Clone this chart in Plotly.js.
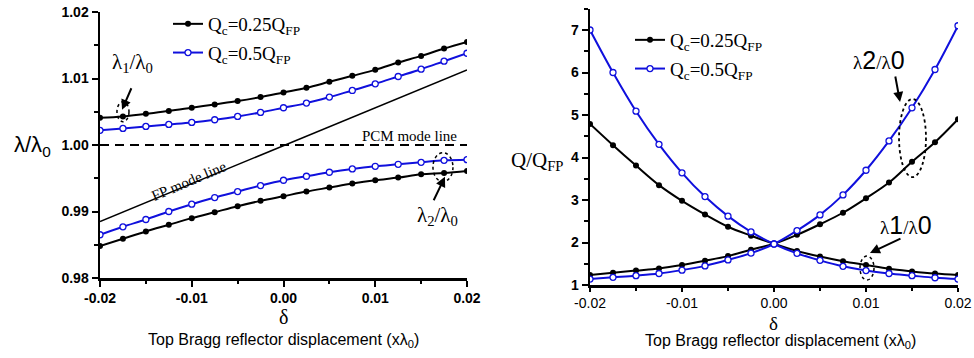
<!DOCTYPE html>
<html>
<head>
<meta charset="utf-8">
<script src="https://cdn.plot.ly/plotly-3.0.1.min.js"></script>
<style>html,body{margin:0;padding:0;background:#fff;}#chart{width:974px;height:358px;}</style>
</head>
<body>
<div id="chart"></div>
<script>
// ---- data ----
const delta = [-0.02,-0.0175,-0.015,-0.0125,-0.01,-0.0075,-0.005,-0.0025,0,0.0025,0.005,0.0075,0.01,0.0125,0.015,0.0175,0.02];
// left panel: normalized wavelength
const lam1_q025 = [1.0041,1.0043,1.0047,1.0051,1.0056,1.0061,1.0066,1.0072,1.0079,1.0086,1.0095,1.0104,1.0113,1.0124,1.0134,1.0145,1.0155];
const lam1_q05  = [1.0022,1.0025,1.0028,1.0031,1.0034,1.0038,1.0043,1.0049,1.0056,1.0063,1.0072,1.0082,1.0092,1.0103,1.0114,1.0126,1.0138];
const lam2_q025 = [0.9848,0.9859,0.9870,0.9880,0.9890,0.9899,0.9908,0.9916,0.9923,0.9930,0.9936,0.9942,0.9947,0.9951,0.9956,0.9958,0.9961];
const lam2_q05  = [0.9865,0.9877,0.9888,0.9900,0.9911,0.9921,0.9930,0.9939,0.9947,0.9953,0.9959,0.9964,0.9968,0.9971,0.9974,0.9977,0.9978];
const fp_x = [-0.02, 0.02];
const fp_y = [0.9885, 1.0113];
const pcm_x = [-0.02, 0.02];
const pcm_y = [1.0, 1.0];
// right panel: normalized Q
const q1_q025 = [4.79,4.29,3.81,3.35,2.98,2.66,2.37,2.16,1.97,1.80,1.67,1.56,1.47,1.38,1.32,1.27,1.235];
const q2_q025 = [1.235,1.29,1.34,1.39,1.47,1.57,1.68,1.83,1.97,2.18,2.43,2.70,3.04,3.41,3.90,4.36,4.90];
const q1_q05  = [7.00,6.00,5.09,4.31,3.64,3.08,2.62,2.25,1.965,1.745,1.58,1.44,1.34,1.27,1.22,1.17,1.14];
const q2_q05  = [1.14,1.18,1.22,1.27,1.35,1.45,1.59,1.75,1.965,2.28,2.65,3.12,3.70,4.39,5.17,6.07,7.10];
const legendNames = ['Q<sub>c</sub>=0.25Q<sub>FP</sub>', 'Q<sub>c</sub>=0.5Q<sub>FP</sub>'];
// tick labels
const xTickVals = [-0.02, -0.01, 0, 0.01, 0.02];
const xTickText = ['-0.02', '-0.01', '0.00', '0.01', '0.02'];
const lamTickVals = [0.98, 0.99, 1.00, 1.01, 1.02];
const lamTickText = ['0.98', '0.99', '1.00', '1.01', '1.02'];
const qTickVals = [1, 2, 3, 4, 5, 6, 7];
const qTickText = ['1', '2', '3', '4', '5', '6', '7'];

// ---- styles ----
const BLACK = '#000000';
const BLUE = '#1010dd';
const SERIF = 'Liberation Serif, Times New Roman, serif';
const SANS = 'Liberation Sans, Arial, sans-serif';
const W = 974, H = 358;
const px = v => v / W;
const py = v => 1 - v / H;
const bold = arr => arr.map(t => '<b>' + t + '</b>');

function blackTrace(y, xa, ya, show, leg) {
  return {x: delta, y: y, xaxis: xa, yaxis: ya, type: 'scatter', mode: 'lines+markers',
    line: {color: BLACK, width: 2, shape: 'spline'},
    marker: {color: BLACK, size: 6, symbol: 'circle'},
    name: legendNames[0], showlegend: show, legend: leg, legendgroup: leg + 'a'};
}
function blueTrace(y, xa, ya, show, leg) {
  return {x: delta, y: y, xaxis: xa, yaxis: ya, type: 'scatter', mode: 'lines+markers',
    line: {color: BLUE, width: 2, shape: 'spline'},
    marker: {color: '#ffffff', size: 6, symbol: 'circle', line: {color: BLUE, width: 1.3}},
    name: legendNames[1], showlegend: show, legend: leg, legendgroup: leg + 'b'};
}

const traces = [
  {x: fp_x, y: fp_y, xaxis: 'x', yaxis: 'y', mode: 'lines', line: {color: BLACK, width: 1.5}, showlegend: false},
  {x: pcm_x, y: pcm_y, xaxis: 'x', yaxis: 'y', mode: 'lines', line: {color: BLACK, width: 2, dash: '9px,6px'}, showlegend: false},
  blackTrace(lam1_q025, 'x', 'y', true, 'legend'),
  blueTrace(lam1_q05, 'x', 'y', true, 'legend'),
  blackTrace(lam2_q025, 'x', 'y', false, 'legend'),
  blueTrace(lam2_q05, 'x', 'y', false, 'legend'),
  blackTrace(q1_q025, 'x2', 'y2', true, 'legend2'),
  blueTrace(q1_q05, 'x2', 'y2', true, 'legend2'),
  blackTrace(q2_q025, 'x2', 'y2', false, 'legend2'),
  blueTrace(q2_q05, 'x2', 'y2', false, 'legend2')
];

const axisCommon = {
  showgrid: false, zeroline: false, showline: true, linecolor: BLACK, linewidth: 2.5,
  ticks: 'outside', ticklen: 6, tickwidth: 2, tickcolor: BLACK, mirror: false, tickmode: 'array'
};
const minorTicks = vals => ({tickvals: vals, ticks: 'outside', ticklen: 3.5, tickwidth: 2, tickcolor: BLACK});

const layout = {
  width: W, height: H,
  margin: {l: 0, r: 0, t: 0, b: 0},
  paper_bgcolor: '#ffffff', plot_bgcolor: 'rgba(0,0,0,0)',
  showlegend: true,
  xaxis: Object.assign({}, axisCommon, {
    domain: [px(100), px(467)], range: [-0.02, 0.02], anchor: 'y',
    tickvals: xTickVals, ticktext: bold(xTickText),
    tickfont: {family: SANS, size: 14, color: BLACK},
    minor: minorTicks([-0.015, -0.005, 0.005, 0.015])
  }),
  yaxis: Object.assign({}, axisCommon, {
    domain: [py(278), py(12)], range: [0.98, 1.02], anchor: 'x',
    tickvals: lamTickVals, ticktext: bold(lamTickText),
    tickfont: {family: SANS, size: 14, color: BLACK},
    minor: minorTicks([0.985, 0.995, 1.005, 1.015])
  }),
  xaxis2: Object.assign({}, axisCommon, {
    domain: [px(590), px(958)], range: [-0.02, 0.02], anchor: 'y2', ticklen: 4,
    tickvals: xTickVals, ticktext: xTickText,
    tickfont: {family: SANS, size: 14, color: BLACK},
    minor: minorTicks([-0.015, -0.005, 0.005, 0.015])
  }),
  yaxis2: Object.assign({}, axisCommon, {
    domain: [py(285), py(8.75)], range: [1, 7.5], anchor: 'x2',
    tickvals: qTickVals, ticktext: bold(qTickText),
    tickfont: {family: SANS, size: 14, color: BLACK},
    minor: minorTicks([1.5, 2.5, 3.5, 4.5, 5.5, 6.5, 7.5])
  }),
  legend: {x: px(168), y: py(5), xanchor: 'left', yanchor: 'top', bgcolor: 'rgba(0,0,0,0)',
    font: {family: SERIF, size: 19, color: BLACK}, itemwidth: 30, tracegroupgap: 1},
  legend2: {x: px(630), y: py(21), xanchor: 'left', yanchor: 'top', bgcolor: 'rgba(0,0,0,0)',
    font: {family: SERIF, size: 19, color: BLACK}, itemwidth: 30, tracegroupgap: 1},
  shapes: [
    {type: 'circle', xref: 'x', yref: 'y', x0: -0.01815, x1: -0.01684, y0: 1.0035, y1: 1.0065, line: {color: BLACK, width: 1.5, dash: 'dot'}},
    {type: 'circle', xref: 'x', yref: 'y', x0: 0.01629, x1: 0.01847, y0: 0.99448, y1: 0.99884, line: {color: BLACK, width: 1.5, dash: 'dot'}},
    {type: 'circle', xref: 'x2', yref: 'y2', x0: 0.01359, x1: 0.01652, y0: 3.54, y1: 5.376, line: {color: BLACK, width: 1.8, dash: 'dot'}},
    {type: 'circle', xref: 'x2', yref: 'y2', x0: 0.00935, x1: 0.01087, y0: 1.118, y1: 1.68, line: {color: BLACK, width: 1.5, dash: 'dot'}}
  ],
  annotations: [
    // axis titles
    {x: px(32), y: py(146), text: 'λ/λ<sub>0</sub>', font: {family: SANS, size: 22, color: BLACK}},
    {x: px(537), y: py(161), text: 'Q/Q<sub>FP</sub>', font: {family: SERIF, size: 21, color: BLACK}},
    {x: px(283), y: py(317), text: 'δ', font: {family: SERIF, size: 20, color: BLACK}},
    {x: px(283), y: py(340), text: 'Top Bragg reflector displacement (xλ<sub>0</sub>)', font: {family: SANS, size: 16, color: BLACK}},
    {x: px(773), y: py(323), text: 'δ', font: {family: SERIF, size: 19, color: BLACK}},
    {x: px(780), y: py(341), text: 'Top Bragg reflector displacement (xλ<sub>0</sub>)', font: {family: SANS, size: 16, color: BLACK}},
    // line labels
    {x: px(409), y: py(136), text: 'PCM mode line', font: {family: SERIF, size: 15, color: BLACK}},
    {x: px(189), y: py(181), text: 'FP mode line', textangle: -23, font: {family: SERIF, size: 15, color: BLACK}},
    // mode labels
    {x: px(132), y: py(63), text: 'λ<sub>1</sub>/λ<sub>0</sub>', font: {family: SERIF, size: 21, color: BLACK}},
    {x: px(437), y: py(216), text: 'λ<sub>2</sub>/λ<sub>0</sub>', font: {family: SERIF, size: 21, color: BLACK}},
    {x: px(879), y: py(60), text: '<span style="font-size:19px">λ</span><span style="font-family:Liberation Sans">2</span><span style="font-size:19px">/λ</span><span style="font-family:Liberation Sans">0</span>', font: {family: SERIF, size: 25, color: BLACK}},
    {x: px(906), y: py(225), text: '<span style="font-size:19px">λ</span><span style="font-family:Liberation Sans">1</span><span style="font-size:19px">/λ</span><span style="font-family:Liberation Sans">0</span>', font: {family: SERIF, size: 25, color: BLACK}}
  ].map(a => Object.assign({xref: 'paper', yref: 'paper', xanchor: 'center', yanchor: 'middle', showarrow: false}, a)).concat([
    // arrows
    {xref: 'x', yref: 'y', x: -0.0176, y: 1.0053, ax: 10, ay: -23, text: '', showarrow: true, arrowhead: 2, arrowsize: 1, arrowwidth: 2, arrowcolor: BLACK},
    {xref: 'x', yref: 'y', x: 0.0176, y: 0.99523, ax: -12, ay: 25, text: '', showarrow: true, arrowhead: 2, arrowsize: 1, arrowwidth: 2, arrowcolor: BLACK},
    {xref: 'x2', yref: 'y2', x: 0.0137, y: 5.306, ax: -5, ay: -27, text: '', showarrow: true, arrowhead: 2, arrowsize: 1, arrowwidth: 2, arrowcolor: BLACK},
    {xref: 'x2', yref: 'y2', x: 0.01043, y: 1.753, ax: 32, ay: -15, text: '', showarrow: true, arrowhead: 2, arrowsize: 1, arrowwidth: 2, arrowcolor: BLACK}
  ])
};

Plotly.newPlot('chart', traces, layout, {staticPlot: true, displayModeBar: false});
</script>
</body>
</html>
